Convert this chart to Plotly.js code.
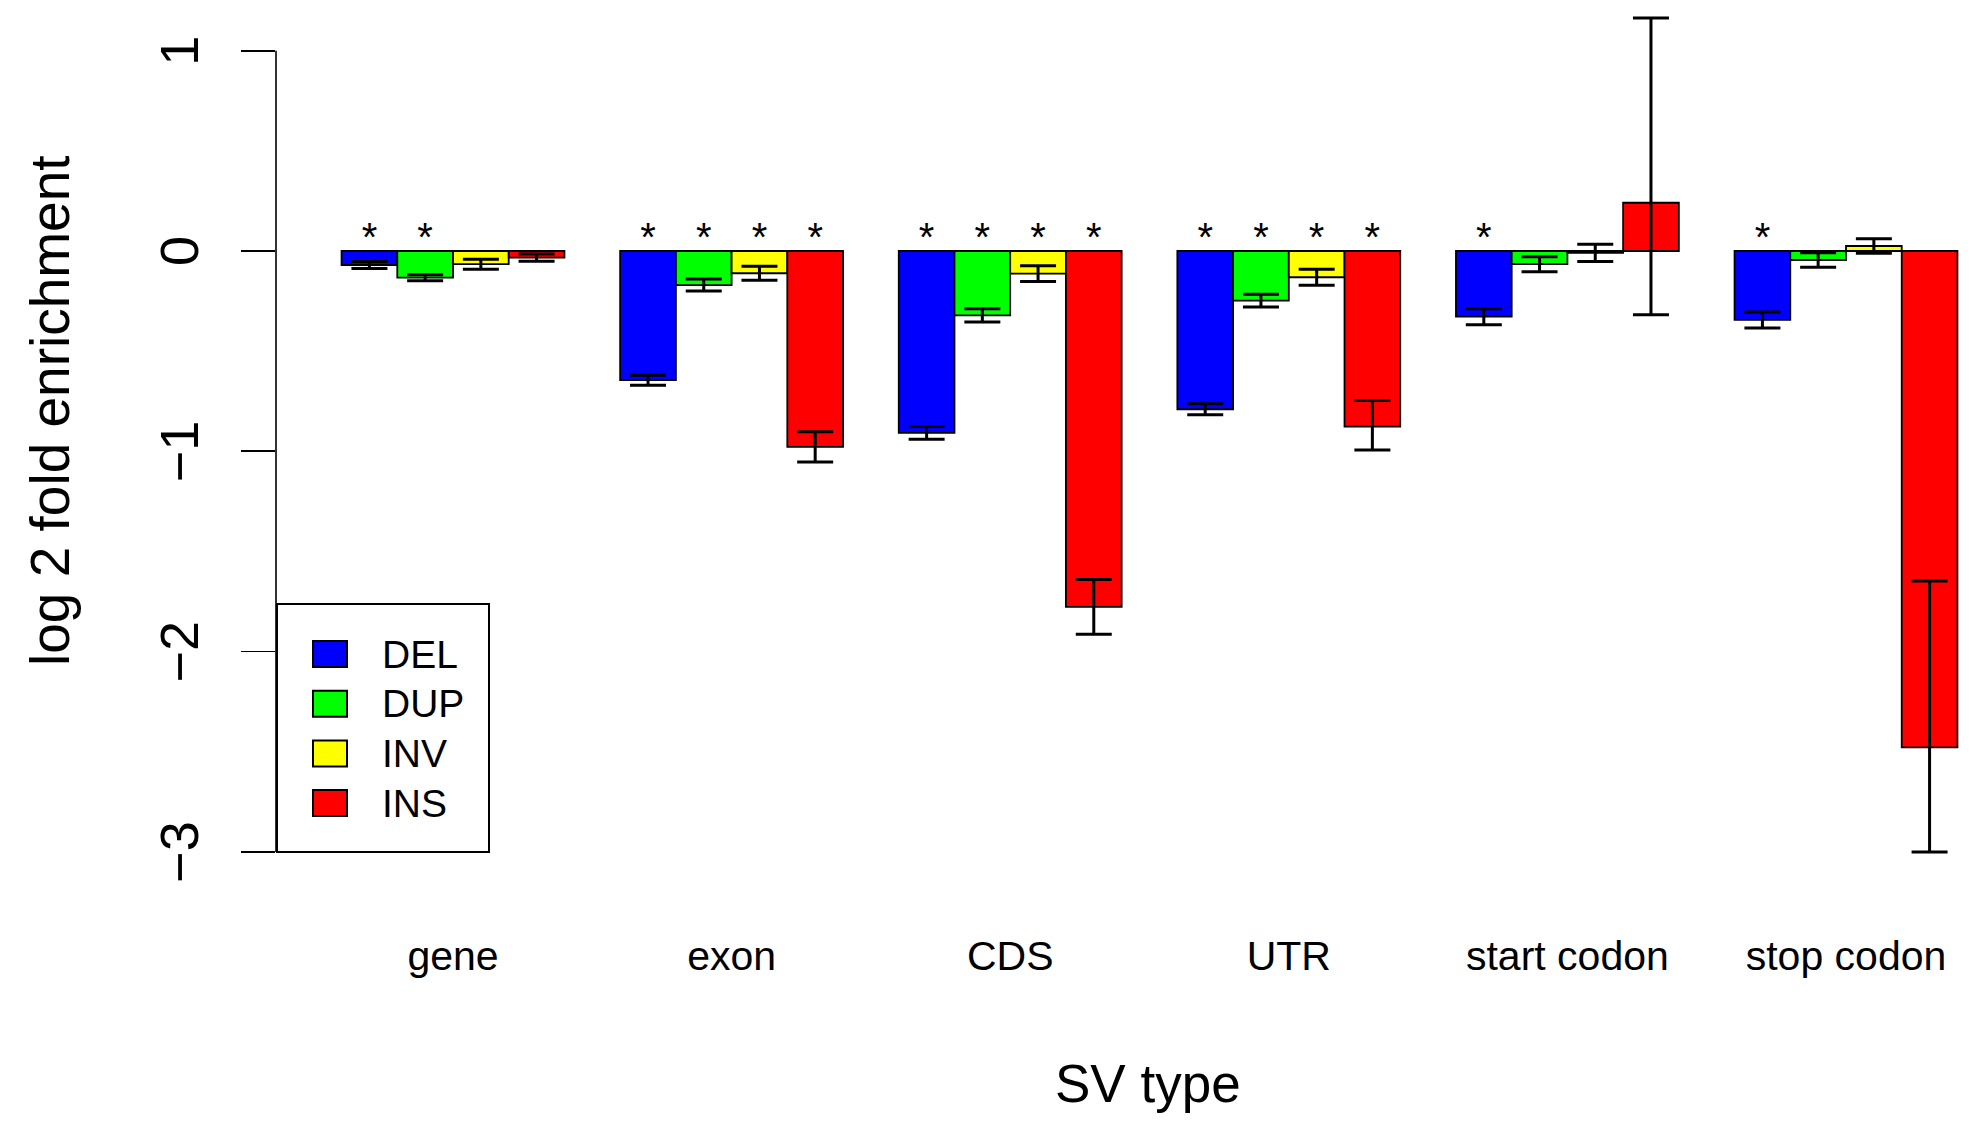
<!DOCTYPE html>
<html>
<head>
<meta charset="utf-8">
<script src="https://cdn.plot.ly/plotly-3.0.1.min.js"></script>
<style>
  html, body { margin: 0; padding: 0; background: #ffffff; }
  #chart { width: 1969px; height: 1127px; }
</style>
</head>
<body>
<div id="chart"></div>
<script>
// ---------------- data ----------------
const categories = ['gene', 'exon', 'CDS', 'UTR', 'start codon', 'stop codon'];
const seriesNames = ['DEL', 'DUP', 'INV', 'INS'];
const seriesColors = ['#0000FF', '#00FF00', '#FFFF00', '#FF0000'];

const DEL = [-0.070, -0.645, -0.908, -0.790, -0.328, -0.344];
const DUP = [-0.133, -0.170, -0.321, -0.248, -0.066, -0.045];
const INV = [-0.066, -0.111, -0.113, -0.131, -0.009, 0.025];
const INS = [-0.033, -0.978, -1.777, -0.877, 0.241, -2.478];

const DEL_errUp = [0.017, 0.025, 0.032, 0.028, 0.040, 0.040];
const DEL_errDn = [0.017, 0.025, 0.032, 0.028, 0.040, 0.040];
const DUP_errUp = [0.015, 0.030, 0.033, 0.032, 0.037, 0.036];
const DUP_errDn = [0.015, 0.030, 0.033, 0.032, 0.037, 0.036];
const INV_errUp = [0.025, 0.035, 0.039, 0.040, 0.043, 0.036];
const INV_errDn = [0.025, 0.035, 0.039, 0.040, 0.043, 0.036];
const INS_errUp = [0.018, 0.075, 0.137, 0.130, 0.922, 0.830];
const INS_errDn = [0.018, 0.075, 0.137, 0.116, 0.559, 0.522];

// significance stars (1 = '*')
const DEL_sig = [1, 1, 1, 1, 1, 1];
const DUP_sig = [1, 1, 1, 1, 0, 0];
const INV_sig = [0, 1, 1, 1, 0, 0];
const INS_sig = [0, 1, 1, 1, 0, 0];

const yTickVals = [-3, -2, -1, 0, 1];
const yTickText = ['\u22123', '\u22122', '\u22121', '0', '1'];
const xTitle = 'SV type';
const yTitle = 'log 2 fold enrichment';

// ---------------- build ----------------
const values = [DEL, DUP, INV, INS];
const errUp = [DEL_errUp, DUP_errUp, INV_errUp, INS_errUp];
const errDn = [DEL_errDn, DUP_errDn, INV_errDn, INS_errDn];
const sigs = [DEL_sig, DUP_sig, INV_sig, INS_sig];

const FONT = '"Liberation Sans", Arial, Helvetica, sans-serif';
const BARW = 0.2;          // bar width in category units (R: space = c(0,1))
const STAR_Y = 0.048;      // height of significance stars
const catIdx = categories.map((_, i) => i);
const offset = j => (j - 1.5) * BARW;

const traces = [];
seriesNames.forEach((name, j) => {
  traces.push({
    type: 'bar',
    name: name,
    x: catIdx.map(i => i + offset(j)),
    y: values[j],
    width: BARW,
    marker: { color: seriesColors[j], line: { color: '#000000', width: 1.8 } },
    error_y: {
      type: 'data', symmetric: false,
      array: errUp[j], arrayminus: errDn[j],
      color: '#000000', thickness: 3, width: 18
    },
    showlegend: false,
    hoverinfo: 'skip'
  });
});
seriesNames.forEach((name, j) => {
  const xs = [], ys = [], ts = [];
  catIdx.forEach(i => {
    if (sigs[j][i]) { xs.push(i + offset(j)); ys.push(STAR_Y); ts.push('*'); }
  });
  traces.push({
    type: 'scatter', mode: 'text',
    x: xs, y: ys, text: ts,
    textposition: 'middle center',
    textfont: { family: FONT, size: 40, color: '#000000' },
    showlegend: false, hoverinfo: 'skip', cliponaxis: false
  });
});

// plot geometry (pixels)
const W = 1969, H = 1127;
const M = { l: 276, r: 5, t: 11, b: 272 };
const pw = W - M.l - M.r, ph = H - M.t - M.b;
const px2paperX = px => (px - M.l) / pw;
const px2paperY = py => (H - M.b - py) / ph;

const shapes = [];
const annotations = [];
// y axis line spanning only the tick range
shapes.push({ type: 'line', xref: 'paper', yref: 'y', x0: 0, x1: 0,
  y0: yTickVals[0], y1: yTickVals[yTickVals.length - 1],
  line: { color: '#000000', width: 1.6 } });
// y tick labels, parallel to the axis (R las = 0)
yTickVals.forEach((v, k) => {
  annotations.push({ xref: 'paper', yref: 'y', x: px2paperX(179), y: v,
    xanchor: 'center', yanchor: 'middle', showarrow: false, textangle: -90,
    text: yTickText[k], font: { family: FONT, size: 54, color: '#000000' } });
});
// manual R-style legend
shapes.push({ type: 'rect', xref: 'paper', yref: 'paper',
  x0: px2paperX(277), x1: px2paperX(489), y0: px2paperY(852), y1: px2paperY(604),
  line: { color: '#000000', width: 2 }, fillcolor: 'rgba(255,255,255,0)' });
seriesNames.forEach((name, j) => {
  const cy = 654 + j * 49.7;
  shapes.push({ type: 'rect', xref: 'paper', yref: 'paper',
    x0: px2paperX(313), x1: px2paperX(347), y0: px2paperY(cy + 13), y1: px2paperY(cy - 13),
    line: { color: '#000000', width: 2 }, fillcolor: seriesColors[j] });
  annotations.push({ xref: 'paper', yref: 'paper', x: px2paperX(380), y: px2paperY(cy),
    xanchor: 'left', yanchor: 'middle', showarrow: false, text: name,
    font: { family: FONT, size: 39, color: '#000000' } });
});
// axis titles
annotations.push({ xref: 'paper', yref: 'paper', x: px2paperX(50), y: px2paperY(411),
  xanchor: 'center', yanchor: 'middle', showarrow: false, textangle: -90, text: yTitle,
  font: { family: FONT, size: 55, color: '#000000' } });
annotations.push({ xref: 'paper', yref: 'paper', x: px2paperX(1148), y: px2paperY(1083),
  xanchor: 'center', yanchor: 'middle', showarrow: false, text: xTitle,
  font: { family: FONT, size: 53, color: '#000000' } });

// axis ranges derived from pixel geometry
const yPerUnit = 200.3, yZeroPx = 251;
const yTop = (yZeroPx - M.t) / yPerUnit;
const yBot = -((H - M.b) - yZeroPx) / yPerUnit;
const xPerUnit = 278.6, xFirstPx = 453;
const xLeft = (M.l - xFirstPx) / xPerUnit;
const xRight = (W - M.r - xFirstPx) / xPerUnit;

const layout = {
  width: W, height: H,
  margin: M,
  paper_bgcolor: '#ffffff', plot_bgcolor: '#ffffff',
  barmode: 'overlay',
  showlegend: false,
  font: { family: FONT, color: '#000000' },
  xaxis: {
    range: [xLeft, xRight],
    tickmode: 'array', tickvals: catIdx, ticktext: categories,
    ticks: '', showline: false, showgrid: false, zeroline: false,
    tickfont: { family: FONT, size: 41, color: '#000000' },
    ticklabelstandoff: 73
  },
  yaxis: {
    range: [yBot, yTop],
    tickmode: 'array', tickvals: yTickVals,
    ticks: 'outside', ticklen: 34, tickwidth: 1.6, tickcolor: '#000000',
    showline: false, showgrid: false, zeroline: false,
    showticklabels: false
  },
  shapes: shapes,
  annotations: annotations
};

Plotly.newPlot('chart', traces, layout, { displayModeBar: false, staticPlot: true });
</script>
</body>
</html>
